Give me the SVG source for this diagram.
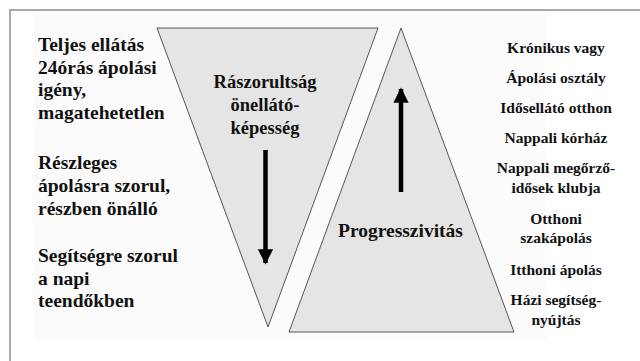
<svg xmlns="http://www.w3.org/2000/svg" width="640" height="361" viewBox="0 0 640 361">
<style>
text{font-family:"Liberation Serif","Times New Roman",serif;font-weight:bold;fill:#111}
.l{font-size:19.5px}
.c{font-size:18.5px;text-anchor:middle}
.r{font-size:15.5px;text-anchor:middle}
.tri{fill:#e5e5e5;stroke:#555;stroke-width:1}
</style>
<defs>
<marker id="ah" viewBox="0 0 10 10" refX="9" refY="5" markerWidth="3.6" markerHeight="3.4" orient="auto" markerUnits="strokeWidth">
<path d="M0,0 L10,5 L0,10 z" fill="#000"/>
</marker>
</defs>
<rect width="640" height="361" fill="#fff"/>
<rect x="34" y="14" width="512" height="326" fill="#fbfbfb"/>
<path d="M10,361 V10 H640" fill="none" stroke="#aaa" stroke-width="2"/>
<g id="need">
<polygon class="tri" points="157,28 378,28 268,327"/>
<text class="c" x="265" y="88">Rászorultság</text>
<text class="c" x="265" y="111">önellátó-</text>
<text class="c" x="265" y="134">képesség</text>
</g>
<g id="progress">
<polygon class="tri" points="401,28 289,332 514,332"/>
<text class="l" x="338" y="237">Progresszivitás</text>
</g>
<g id="arrows">
<line x1="265.5" y1="150" x2="265.5" y2="263" stroke="#000" stroke-width="4.5" marker-end="url(#ah)"/>
<line x1="401" y1="192" x2="401" y2="89" stroke="#000" stroke-width="4.5" marker-end="url(#ah)"/>
</g>
<g id="left-full" font-family="Liberation Serif, serif">
<text class="l" x="38" y="51">Teljes ellátás</text>
<text class="l" x="38" y="74">24órás ápolási</text>
<text class="l" x="38" y="96">igény,</text>
<text class="l" x="38" y="119">magatehetetlen</text>
</g>
<g id="left-partial">
<text class="l" x="38" y="169">Részleges</text>
<text class="l" x="38" y="192">ápolásra szorul,</text>
<text class="l" x="38" y="215">részben önálló</text>
</g>
<g id="left-help">
<text class="l" x="38" y="262">Segítségre szorul</text>
<text class="l" x="38" y="285">a napi</text>
<text class="l" x="38" y="307">teendőkben</text>
</g>
<g id="right-list">
<text class="r" x="556" y="53">Krónikus vagy</text>
<text class="r" x="556" y="83">Ápolási osztály</text>
<text class="r" x="556" y="113">Idősellátó otthon</text>
<text class="r" x="556" y="143">Nappali kórház</text>
<text class="r" x="556" y="173">Nappali megőrző-</text>
<text class="r" x="556" y="193">idősek klubja</text>
<text class="r" x="556" y="224">Otthoni</text>
<text class="r" x="556" y="243">szakápolás</text>
<text class="r" x="556" y="275">Itthoni ápolás</text>
<text class="r" x="556" y="305">Házi segítség-</text>
<text class="r" x="556" y="325">nyújtás</text>
</g>
</svg>
